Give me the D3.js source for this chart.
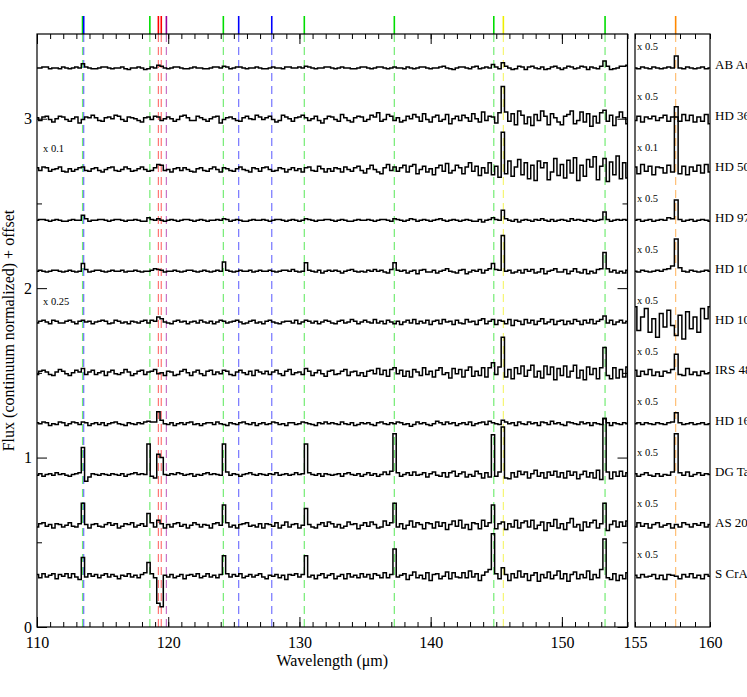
<!DOCTYPE html>
<html>
<head>
<meta charset="utf-8">
<script src="https://cdn.jsdelivr.net/npm/d3@7"></script>
<style>
  body { margin: 0; background: #fff; }
  text { font-family: "Liberation Serif", "DejaVu Serif", serif; }
</style>
</head>
<body>
<script>
// ---------------- DATA ----------------
const names = ["AB Aur","HD 36112","HD 50138","HD 97048","HD 100546","HD 100453","IRS 48","HD 163296","DG Tau","AS 205","S CrA"];
const offsets = [3.3, 3.0, 2.7, 2.4, 2.1, 1.8, 1.5, 1.2, 0.9, 0.6, 0.3];
const mainNotes = ["", "", "x 0.1", "", "", "x 0.25", "", "", "", "", ""];
const rightNotes = ["x 0.5","x 0.5","x 0.1","x 0.5","x 0.5","x 0.5","x 0.5","x 0.5","x 0.5","x 0.5","x 0.5"];

// spectral grid (micron)
const mainStart = 110, rightStart = 155, gridStep = 0.25;
// flux values below: scaled (flux - continuum), in units of 0.005
const fluxUnit = 0.005;

const abAurMain = [
0,0,1,1,-1,0,0,-1,1,0,
-1,0,1,0,5,1,0,-1,-1,0,
1,1,0,-1,0,0,1,-1,-2,0,
0,1,0,-2,-1,1,0,3,2,0,
-1,0,1,1,0,-1,-1,0,1,0,
0,-1,-1,0,1,1,0,2,1,-1,
0,1,1,0,-1,0,0,1,0,-1,
-1,0,1,0,0,-1,1,1,0,0,
1,0,2,1,0,-1,0,0,1,1,
0,-1,0,1,0,0,-1,-1,0,1,
1,0,-1,0,1,1,0,-1,0,1,
0,0,-1,1,0,-1,0,1,1,0,
-1,0,0,1,2,0,-1,-2,0,1,
1,0,-1,1,2,-1,0,1,0,4,
1,-1,6,2,0,-2,-1,2,1,-2,
1,2,0,-1,1,-2,-1,1,2,0,
-2,0,2,1,-1,0,2,1,-2,1,
0,-1,2,8,2,-2,-1,0,2,2,
3];
const hd36112Main = [
1,-2,2,3,-1,-4,0,3,2,-1,
-3,0,2,-5,-1,2,1,4,1,-2,
-3,1,2,0,4,3,-1,-3,2,1,
0,-2,-4,1,2,-1,3,2,-2,0,
2,0,-3,-1,3,4,1,-2,-2,3,
1,-1,-3,0,2,3,-5,-1,1,2,
0,-2,-3,1,3,0,-1,4,2,-1,
1,3,-1,-4,-2,4,2,0,-3,1,
2,4,1,-2,0,3,-2,-5,0,3,
2,-1,-3,5,1,-2,-4,1,3,2,
-3,-1,4,2,7,-3,-1,5,3,-2,
1,-4,-2,3,0,5,2,-3,6,-1,
-4,2,4,-3,-1,5,-6,0,3,-2,
4,1,-3,6,0,-4,8,-2,3,2,
-5,7,38,8,-3,6,-7,9,4,-6,
2,-8,5,-2,9,3,-7,6,1,-4,
-7,3,5,9,-6,-2,8,-4,6,-9,
3,-5,7,10,-3,4,-8,2,8,1,
-6];
const hd50138Main = [
2,-1,3,2,-2,0,1,3,-2,-3,
1,-2,0,2,3,-1,-2,1,2,-1,
-3,0,2,3,-1,-2,0,3,1,-2,
-1,1,3,0,-2,-1,2,6,5,-1,
0,-3,1,2,-1,2,0,-2,-3,1,
2,-1,-2,1,3,0,-3,2,1,-1,
-2,1,3,0,-1,-3,2,1,-2,2,
3,0,-2,-1,2,1,-3,0,2,-1,
1,-3,2,3,-1,-2,4,1,-3,1,
-2,2,1,-3,3,0,-2,2,4,-1,
-4,1,5,0,-3,-5,2,6,-1,3,
-2,2,5,-3,4,6,-5,0,4,-3,
1,-6,2,5,-2,7,-4,-1,5,2,
-5,3,8,-2,4,-7,2,-4,8,-6,
4,-9,44,-5,10,-8,3,12,-6,8,
-11,5,-13,10,2,8,-12,-3,13,-7,
6,-10,11,-4,14,-13,5,-8,12,3,
15,-12,4,13,-14,9,-6,16,-11,8,
-10];
const hd97048Main = [
0,1,1,0,-1,0,1,0,-1,-1,
0,1,0,0,6,2,-1,0,0,1,
1,0,-1,0,1,1,0,-1,0,0,
1,0,-1,-1,3,1,0,2,0,-1,
0,1,0,-1,0,1,1,0,-1,0,
1,0,-1,0,0,1,0,2,1,-1,
0,1,0,-1,-1,0,1,0,0,1,
0,-1,0,1,1,0,-1,0,1,0,
-1,0,2,1,0,-1,0,0,1,1,
0,-1,0,1,0,-1,-1,0,1,0,
0,1,0,-1,0,1,1,0,-1,2,
1,0,-1,0,2,1,-1,0,1,0,
-1,0,1,2,0,-1,0,1,0,-1,
0,1,0,-1,-1,1,-2,0,1,3,
1,0,12,2,0,-1,1,-2,0,1,
0,-1,1,0,2,0,-1,1,-1,0,
1,0,-1,2,0,1,0,-1,1,0,
-1,0,1,10,1,-1,0,1,0,1,
0];
const hd100546Main = [
0,1,0,-1,0,1,1,0,-1,0,
1,0,-1,0,9,2,-1,0,1,1,
0,-1,0,1,0,0,1,-1,0,0,
1,0,-1,0,0,1,3,2,1,-1,
0,0,1,0,-1,0,1,1,0,-1,
0,1,0,-1,0,1,0,11,1,0,
-1,0,1,0,0,1,-1,0,1,0,
0,1,0,-1,0,1,1,0,2,0,
-1,0,10,1,0,-1,1,-2,0,1,
0,1,0,-2,0,1,2,0,-1,0,
-1,1,0,2,0,1,-1,-2,2,10,
1,0,1,-2,0,1,-3,1,2,-1,
-1,1,-2,0,1,3,0,-1,-2,1,
2,-3,-1,1,0,2,-2,1,3,9,
2,1,42,0,1,-2,-1,1,-2,2,
0,2,-2,-1,3,-3,0,1,3,-1,
-1,2,-3,0,3,-1,-2,2,-3,0,
-2,2,3,22,3,-1,1,-2,0,-2,
1];
const hd100453Main = [
-1,1,2,0,-2,2,1,-1,-1,1,
2,0,-2,1,2,0,1,-2,0,1,
2,1,-2,-1,2,1,-1,0,-2,1,
0,-1,1,2,-1,2,1,6,4,0,
-1,-2,1,2,0,1,-2,0,1,-1,
2,0,-1,1,-2,0,2,1,-1,0,
1,2,0,-2,-1,1,2,-1,0,-2,
1,2,0,-1,-2,0,1,1,-1,2,
-2,0,2,1,-1,1,-2,0,2,1,
-1,-2,1,2,-1,0,3,1,-2,0,
2,0,-1,3,-1,1,-2,2,0,-2,
1,-3,0,2,-1,3,-2,1,-1,2,
-3,1,2,-2,3,0,1,-3,2,-1,
-2,3,0,1,-3,2,4,-2,1,3,
-3,2,1,-2,3,-4,2,1,-3,3,
-1,2,-3,1,4,-2,0,3,-3,1,
2,-3,1,-2,3,1,-3,2,-1,3,
-2,1,3,7,-1,2,-3,0,2,-1,
1];
const irs48Main = [
-2,2,3,1,-2,-3,1,4,2,-1,
-3,0,3,1,5,-2,1,3,-2,0,
2,-3,1,3,-1,-2,0,4,1,-3,
-1,2,3,-2,1,2,4,-1,0,-3,
2,1,-3,-2,2,4,0,-3,1,3,
-1,-3,2,3,-2,1,-1,3,2,-2,
-3,1,3,0,-2,2,-3,3,1,-1,
2,-2,1,3,-1,-3,2,4,-2,0,
1,-2,5,2,-3,0,3,-1,-4,2,
3,-2,-1,2,4,-3,1,2,-3,0,
-4,2,3,-1,5,-2,3,-4,4,6,
-1,3,-4,2,-5,4,1,-3,6,-2,
2,-5,3,6,-2,0,-6,5,-1,4,
-5,3,7,-4,2,-3,6,-5,6,12,
-2,7,42,-5,4,-7,6,-1,8,-4,
3,9,-5,2,-6,8,-2,7,-8,5,
-3,8,-5,2,9,-6,3,-8,7,-2,
5,-7,6,30,-3,-7,6,-6,4,-5,
7];
const hd163296Main = [
1,0,2,1,-2,0,-1,2,1,-2,
0,2,1,-1,2,1,-2,0,1,-1,
1,-2,0,1,2,0,-1,-2,1,0,
-1,1,0,2,3,2,2,14,4,0,
-1,1,-2,0,1,-1,1,2,-1,0,
-2,0,1,1,-1,2,0,-1,-2,1,
0,-1,1,2,0,-1,1,-2,0,1,
-1,0,2,1,-1,0,-2,1,1,-1,
0,2,1,0,-1,-2,1,0,2,0,
1,0,-1,2,0,-1,1,-2,-1,1,
0,1,-1,-2,1,2,0,-1,1,0,
2,1,-1,0,-3,-1,2,0,1,-1,
-2,0,3,1,-1,2,0,1,-2,0,
1,-1,2,-2,0,1,2,-1,3,1,
0,-1,4,2,0,1,-2,2,0,-1,
2,0,1,-2,2,1,-1,3,0,1,
-1,-2,2,1,0,-1,2,0,1,-2,
1,0,-1,6,1,-2,1,0,-1,1,
0];
const dgTauMain = [
-1,1,-2,0,1,-1,2,0,1,-1,
-2,0,1,2,32,-8,-3,1,0,-1,
1,0,-1,1,0,-1,1,-2,0,1,
2,0,1,0,36,-2,-4,24,20,0,
-1,1,0,2,1,-1,0,1,-2,0,
-1,1,2,0,1,0,-1,36,3,-1,
1,0,-2,0,1,2,0,-1,1,0,
-1,1,0,2,-1,0,1,-1,0,2,
0,1,36,2,0,-1,1,-2,1,0,
-1,0,1,-2,1,2,0,-1,1,-2,
0,2,-1,1,-2,0,3,0,4,48,
2,-2,0,2,-1,3,-1,0,2,-3,
1,3,-1,-2,2,-3,2,4,-2,1,
3,-3,0,-2,4,1,-4,2,-3,47,
-2,3,56,-4,-5,2,-3,4,0,3,
-4,1,5,-2,2,-4,3,-1,4,-3,
2,-4,4,-1,3,-5,0,4,-3,2,
-4,5,-6,66,3,-5,3,-2,4,-2,
2];
const as205Main = [
-2,2,3,-1,1,-3,2,1,-2,0,
3,-1,-2,2,26,1,-3,1,2,-1,
-2,1,3,0,2,-3,-1,2,1,3,
-2,0,2,-1,14,3,-2,6,2,-3,
1,-2,2,3,-1,1,-3,0,3,1,
-2,1,0,-3,2,3,0,24,3,-2,
0,-3,1,2,3,-1,0,-2,2,-3,
2,1,-1,3,-3,0,4,-2,1,2,
-3,0,20,1,-2,-3,1,3,-1,4,
2,-2,1,-3,-1,4,1,2,-4,0,
3,-1,4,1,-3,-2,5,0,3,26,
-2,2,-4,0,5,-2,3,1,-4,3,
2,-3,4,-1,3,-5,1,5,-1,6,
-3,1,-5,3,2,-4,6,-1,3,24,
-4,2,4,-5,2,-2,6,-3,3,5,
-2,6,-4,0,4,-6,3,-1,7,-3,
2,-5,3,8,-2,1,-6,4,-2,3,
6,-3,2,26,-6,1,5,-2,4,-1,
5];
const sCrAMain = [
2,-2,3,-1,1,3,-3,2,0,3,
-2,3,-1,-4,22,-1,3,0,2,-2,
1,3,-1,2,0,-3,1,0,3,-1,
1,-2,2,4,16,3,-2,-32,-36,1,
-1,2,-2,0,2,-3,1,2,0,3,
-2,0,3,-1,1,-2,2,24,3,-1,
2,0,3,-2,0,2,-1,1,3,-1,
-3,1,0,2,-2,1,-4,2,1,3,
-1,2,24,-1,1,-3,1,3,-2,1,
3,-3,0,2,-3,3,-1,1,-2,3,
-1,2,-3,3,1,-2,4,-2,2,32,
-1,1,3,-4,1,5,-2,1,-3,4,
-5,2,3,-3,0,5,-3,4,-1,-2,
4,-2,6,-1,3,-5,1,5,8,50,
3,-3,10,2,-5,3,-2,6,-1,3,
-5,1,4,-6,2,-2,5,-3,1,6,
-3,3,-6,2,5,-3,2,-2,6,-4,
2,-2,8,44,-2,-4,3,-5,1,-3,
4];

// 155-160 micron panel
const abAurRight     = [0,-1,1,0,-1,1,0,-1,0,1,0,14,0,-1,1,0,-1,0,1,-1,0];
const hd36112Right   = [-2,3,-4,2,0,3,-2,1,4,-3,2,14,-3,5,-2,4,-4,2,-3,5,-6];
const hd50138Right   = [3,-5,6,-2,4,-6,3,2,-4,5,-3,62,-5,4,-6,3,-2,5,-4,6,-3];
const hd97048Right   = [0,1,-1,0,1,-1,0,1,0,3,2,24,1,-1,0,1,-1,0,1,0,-1];
const hd100546Right  = [0,-1,1,0,-1,0,1,0,2,3,6,38,4,0,-1,1,0,-1,0,1,0];
const hd100453Right  = [18,-10,6,16,-12,4,-18,10,-6,14,-4,-16,8,-20,12,-8,6,-12,16,4,18];
const irs48Right     = [3,-4,2,-2,4,-3,1,-4,2,0,4,22,-2,-3,5,-2,1,-3,2,-1,0];
const hd163296Right  = [0,1,-1,1,0,-1,1,0,-1,1,2,13,1,-1,0,1,-1,0,1,-1,0];
const dgTauRight     = [1,-2,0,2,-1,-2,1,-2,0,-1,3,48,2,-1,3,-2,0,2,-1,1,0];
const as205Right     = [-2,3,-1,2,-3,1,3,-2,0,2,-3,1,-2,3,1,-2,2,0,3,-2,1];
const sCrARight      = [1,-2,2,-1,0,2,-3,1,-4,2,1,0,-3,2,-1,3,-2,1,-3,2,0];

// marked line wavelengths (micron) and their colours
const lineWaves  = [113.47, 113.56, 118.6, 119.25, 119.47, 119.86, 124.2, 125.37, 127.89, 130.37, 137.23, 144.81, 145.54, 153.29, 157.71];
const lineColors = ["#00dd00","#0000ff","#00dd00","#ff0000","#ff0000","#990099","#00dd00","#0000ff","#0000ff","#00dd00","#00dd00","#00dd00","#eeee00","#00dd00","#ff8800"];

const mainXLabels = [110, 120, 130, 140, 150];
const rightXLabels = [155, 160];
const yLabels = [0, 1, 2, 3];

// ---------------- CHART ----------------
const mainSpectra  = [abAurMain, hd36112Main, hd50138Main, hd97048Main, hd100546Main, hd100453Main, irs48Main, hd163296Main, dgTauMain, as205Main, sCrAMain];
const rightSpectra = [abAurRight, hd36112Right, hd50138Right, hd97048Right, hd100546Right, hd100453Right, irs48Right, hd163296Right, dgTauRight, as205Right, sCrARight];

const W = 747, H = 697;
const svg = d3.select("body").append("svg").attr("width", W).attr("height", H);

const plotTop = 34, plotBottom = 627;
const xMain = d3.scaleLinear().domain([110, 155]).range([37, 627.5]);
const xRight = d3.scaleLinear().domain([155, 160]).range([635, 710]);
const y = d3.scaleLinear().domain([0, 3.5]).range([plotBottom, plotTop]);

const defs = svg.append("defs");
defs.append("clipPath").attr("id", "cm").append("rect")
  .attr("x", xMain(110)).attr("y", plotTop).attr("width", xMain(155) - xMain(110)).attr("height", plotBottom - plotTop);
defs.append("clipPath").attr("id", "cr").append("rect")
  .attr("x", xRight(155)).attr("y", plotTop).attr("width", xRight(160) - xRight(155)).attr("height", plotBottom - plotTop);

// vertical marker lines
lineWaves.forEach((w, i) => {
  const sx = w > 155 ? xRight : xMain;
  const c = lineColors[i];
  svg.append("line").attr("x1", sx(w)).attr("x2", sx(w)).attr("y1", 16).attr("y2", plotTop)
    .attr("stroke", c).attr("stroke-width", 1.6);
  svg.append("line").attr("x1", sx(w)).attr("x2", sx(w)).attr("y1", plotTop).attr("y2", plotBottom)
    .attr("stroke", c).attr("stroke-width", 1.2).attr("stroke-opacity", 0.55)
    .attr("stroke-dasharray", "8,5");
});

// spectra
function drawSpec(values, offset, sx, start, clip) {
  const line = d3.line()
    .x((d, i) => sx(start + i * gridStep))
    .y(d => y(offset + d * fluxUnit))
    .curve(d3.curveStep);
  svg.append("path").attr("d", line(values)).attr("clip-path", `url(#${clip})`)
    .attr("fill", "none").attr("stroke", "#000").attr("stroke-width", 1.5)
    .attr("stroke-linejoin", "miter");
}
names.forEach((n, k) => {
  drawSpec(mainSpectra[k], offsets[k], xMain, mainStart, "cm");
  drawSpec(rightSpectra[k], offsets[k], xRight, rightStart, "cr");
  svg.append("text").attr("x", 715).attr("y", y(offsets[k]) - 3).attr("dy", "0.35em")
    .attr("font-size", 13).text(n);
  svg.append("text").attr("x", 637).attr("y", y(offsets[k]) - 22).attr("dy", "0.35em")
    .attr("font-size", 10.5).text(rightNotes[k]);
  if (mainNotes[k]) {
    svg.append("text").attr("x", 43).attr("y", y(offsets[k]) - 21).attr("dy", "0.35em")
      .attr("font-size", 10.5).text(mainNotes[k]);
  }
});

// frames
svg.append("rect").attr("x", xMain(110)).attr("y", plotTop).attr("width", xMain(155) - xMain(110))
  .attr("height", plotBottom - plotTop).attr("fill", "none").attr("stroke", "#000").attr("stroke-width", 1.2);
svg.append("rect").attr("x", xRight(155)).attr("y", plotTop).attr("width", xRight(160) - xRight(155))
  .attr("height", plotBottom - plotTop).attr("fill", "none").attr("stroke", "#000").attr("stroke-width", 1.2);

function styleAxis(g) {
  g.select(".domain").remove();
  g.selectAll("line").attr("stroke", "#000").attr("stroke-width", 1);
  g.selectAll("text").attr("font-family", "Liberation Serif, serif").attr("font-size", 16).attr("fill", "#000");
}
// x axes: main panel
svg.append("g").attr("transform", `translate(0,${plotBottom})`)
  .call(d3.axisBottom(xMain).tickValues(d3.range(110, 156, 1)).tickSize(-5).tickFormat(""))
  .call(styleAxis);
svg.append("g").attr("transform", `translate(0,${plotBottom})`)
  .call(d3.axisBottom(xMain).tickValues(mainXLabels).tickSize(-10).tickPadding(10).tickFormat(d3.format("d")))
  .call(styleAxis);
svg.append("g").attr("transform", `translate(0,${plotTop})`)
  .call(d3.axisTop(xMain).tickValues(d3.range(110, 156, 1)).tickSize(-5).tickFormat(""))
  .call(styleAxis);
svg.append("g").attr("transform", `translate(0,${plotTop})`)
  .call(d3.axisTop(xMain).tickValues(mainXLabels).tickSize(-10).tickFormat(""))
  .call(styleAxis);
// x axes: right panel
svg.append("g").attr("transform", `translate(0,${plotBottom})`)
  .call(d3.axisBottom(xRight).tickValues(d3.range(155, 161, 1)).tickSize(-5).tickFormat(""))
  .call(styleAxis);
svg.append("g").attr("transform", `translate(0,${plotBottom})`)
  .call(d3.axisBottom(xRight).tickValues(rightXLabels).tickSize(0).tickPadding(10).tickFormat(d3.format("d")))
  .call(styleAxis);
svg.append("g").attr("transform", `translate(0,${plotTop})`)
  .call(d3.axisTop(xRight).tickValues(d3.range(155, 161, 1)).tickSize(-5).tickFormat(""))
  .call(styleAxis);

// y axes
svg.append("g").attr("transform", `translate(${xMain(110)},0)`)
  .call(d3.axisLeft(y).tickValues(yLabels).tickSize(-10).tickPadding(5).tickFormat(d3.format("d")))
  .call(styleAxis);
svg.append("g").attr("transform", `translate(${xMain(110)},0)`)
  .call(d3.axisLeft(y).tickValues([0.5, 1.5, 2.5]).tickSize(-5).tickFormat(""))
  .call(styleAxis);
svg.append("g").attr("transform", `translate(${xMain(155)},0)`)
  .call(d3.axisRight(y).tickValues(yLabels).tickSize(-10).tickFormat(""))
  .call(styleAxis);
svg.append("g").attr("transform", `translate(${xMain(155)},0)`)
  .call(d3.axisRight(y).tickValues([0.5, 1.5, 2.5]).tickSize(-5).tickFormat(""))
  .call(styleAxis);

// titles
svg.append("text").attr("x", (xMain(110) + xMain(155)) / 2).attr("y", 666)
  .attr("text-anchor", "middle").attr("font-size", 16).text("Wavelength (μm)");
svg.append("text").attr("transform", `translate(14,${(plotTop + plotBottom) / 2}) rotate(-90)`)
  .attr("text-anchor", "middle").attr("font-size", 16).text("Flux (continuum normalized) + offset");
</script>
</body>
</html>
